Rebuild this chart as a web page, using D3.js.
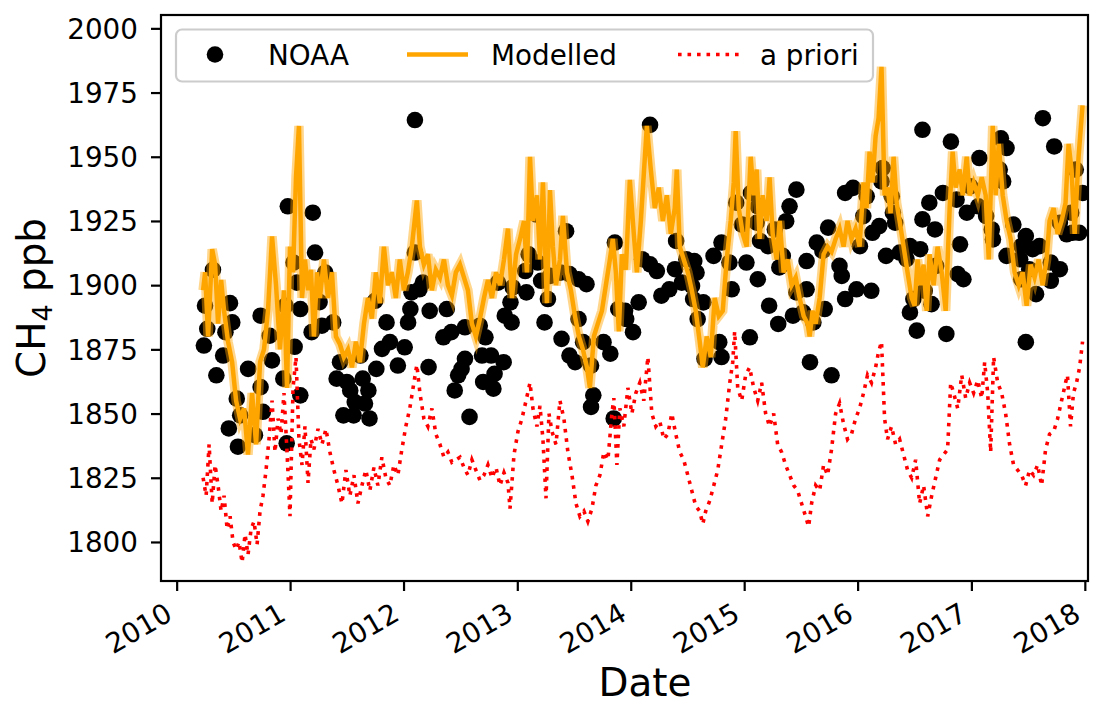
<!doctype html>
<html>
<head>
  <meta charset="utf-8">
  <script src="https://d3js.org/d3.v7.min.js"></script>
  <style>
    body { margin: 0; background: #fff; }
    text { font-family: "DejaVu Sans", sans-serif; fill: #000; }
  </style>
</head>
<body>
<script>
// data: [decimal year, CH4 ppb]
var noaaPoints = [
  [2010.32,1906],[2010.25,1892],[2010.27,1883],[2010.24,1876.5],[2010.47,1893],[2010.49,1885.5],[2010.43,1881.7],
  [2010.41,1872.6],[2010.35,1864.9],[2010.53,1855.8],[2010.56,1849.3],[2010.46,1844.2],[2010.54,1837.1],[2010.63,1867.4],
  [2010.74,1888.1],[2010.82,1880.3],[2010.84,1870.7],[2010.74,1860.3],[2010.76,1850.7],[2010.69,1841.6],[2010.94,1863.6],
  [2010.97,1838.4],[2011.09,1857.1],[2010.98,1930.7],[2011.20,1928.2],[2011.03,1908.8],[2011.22,1912.7],[2011.06,1901],
  [2011.09,1890.7],[2011.19,1881.7],[2010.96,1892],[2011.26,1893.4],[2011.04,1876],
  [2012.10,1964.3],[2011.31,1904.9],[2011.28,1884.2],[2011.38,1885.5],[2011.44,1870],[2011.41,1863.6],[2011.50,1862.3],
  [2011.53,1859],[2011.62,1872.6],[2011.64,1863.6],[2011.69,1859],[2011.47,1849.3],[2011.57,1854.5],[2011.66,1853.9],
  [2011.56,1849.3],[2011.70,1848.1],[2011.76,1867.4],[2011.75,1893.9],[2011.85,1885.5],[2011.81,1875.2],[2011.88,1877.8],
  [2011.95,1868.7],[2012.01,1875.8],[2012.04,1885.5],[2012.06,1890.7],[2012.07,1897.2],[2012.14,1898.4],[2012.17,1901],
  [2012.10,1912.7],[2012.22,1868.1],[2012.23,1890],[2012.38,1890.7],[2012.35,1879.7],[2012.42,1881.7],[2012.54,1883.6],
  [2012.54,1871.3],[2012.48,1864.9],[2012.45,1859],[2012.58,1848.7],
  [2012.51,1867.4],[2012.67,1884.2],[2012.72,1879.7],[2012.69,1872.6],[2012.77,1872.6],[2012.80,1865.5],[2012.70,1862.3],
  [2012.79,1859.7],[2012.88,1870],[2012.89,1888.1],[2012.94,1893.3],[2012.95,1885.5],[2012.83,1901],[2012.96,1899.1],
  [2013.08,1897.2],[2013.07,1905.5],[2013.10,1912],[2013.17,1927.5],[2013.18,1908.8],[2013.21,1901.7],[2013.27,1894.6],
  [2013.24,1885.5],[2013.29,1903.6],[2013.43,1921],[2013.38,1904.9],[2013.46,1904.3],[2013.54,1902.3],[2013.61,1900.4],
  [2013.54,1886.8],[2013.39,1879.1],[2013.46,1872.6],[2013.51,1870],[2013.58,1877.8],[2013.65,1868.7],[2013.76,1877.8],
  [2013.82,1873.3],[2013.67,1857.1],[2013.65,1852.6],[2013.85,1848.1],[2013.86,1916.6],[2013.89,1890.7],
  [2013.95,1890],[2013.96,1886.8],[2014.07,1893.3],[2014.02,1881.7],[2014.17,1962.4],[2014.10,1910.1],[2014.17,1908.1],
  [2014.23,1905.5],[2014.27,1895.9],[2014.34,1898.4],[2014.39,1906.2],[2014.40,1917.2],[2014.45,1901],[2014.49,1910.1],
  [2014.56,1909.4],[2014.58,1904.9],[2014.54,1899.7],[2014.55,1894.6],[2014.64,1893.3],[2014.59,1886.8],[2014.65,1871.3],
  [2014.78,1877.8],[2014.80,1872],[2014.73,1911.4],[2014.80,1916.6],[2014.87,1908.8],[2014.89,1898.4],[2014.93,1932.1],
  [2014.98,1923.6],[2015.06,1935.9],[2015.12,1930.7],[2015.11,1924.3],[2015.14,1917.2],[2015.02,1908.8],[2015.12,1902.3],
  [2015.05,1879.7],[2015.22,1892],
  [2015.30,1884.9],[2015.21,1915.2],[2015.27,1921.7],[2015.40,1930.7],[2015.46,1937.2],[2015.37,1924.9],[2015.34,1911.4],
  [2015.31,1906.9],[2015.55,1909.4],[2015.46,1897.2],[2015.43,1888.1],[2015.52,1889.4],[2015.55,1898.4],[2015.61,1885.5],
  [2015.71,1890.7],[2015.58,1870],[2015.77,1864.9],[2015.64,1916.6],[2015.74,1922.4],[2015.69,1913.3],[2015.84,1907.5],
  [2015.86,1903.6],[2015.89,1894.6],[2015.99,1898.4],[2016.12,1897.8],[2015.89,1935.9],[2015.96,1937.9],[2016.05,1926.9],
  [2016.08,1934.6],[2016.02,1915.2],[2016.13,1920.4],[2016.19,1923],[2016.22,1945.6],[2016.21,1940.4],[2016.30,1934.6],
  [2016.31,1928.2],[2016.33,1924.3],[2016.25,1911.4],[2016.37,1912.7],[2016.46,1915.2],[2016.43,1910.1],[2016.55,1914],
  [2016.57,1960.5],[2016.63,1932.1],[2016.57,1925.6],[2016.49,1894.6],[2016.46,1889.4],[2016.52,1882.3],[2016.59,1897.8],
  [2016.82,1955.9],[2017.63,1965],[2017.07,1949.5],[2017.26,1957.2],[2017.31,1953.4],[2017.73,1954],[2017.25,1945],
  [2017.28,1940.4],[2017.92,1945],[2017.98,1935.9],[2017.88,1928.2],[2016.75,1935.9],[2016.68,1921.7],[2016.87,1933.3],
  [2016.99,1938.5],[2016.96,1928.2],[2017.06,1930.7],[2017.13,1926.9],[2017.18,1921.7],[2017.19,1917.8],[2016.90,1915.9],
  [2016.69,1907.5],[2016.88,1904.3],[2016.93,1902.3],[2016.65,1892.6],[2016.78,1881],[2017.37,1923.6],[2017.48,1919.1],
  [2017.44,1915.2],[2017.31,1911.4],[2017.43,1910.1],[2017.54,1914],[2017.60,1915.2],[2017.51,1906.2],[2017.70,1908.8],
  [2017.78,1906.2],[2017.70,1901.7],[2017.44,1902.3],[2017.57,1896.5],[2017.48,1877.8],[2017.78,1924.3],[2017.84,1919.8],
  [2017.95,1920.4],[2017.89,1920.4]
];

var modelledSeries = [
  [2010.233,1898],[2010.251,1905],[2010.277,1880],[2010.313,1914],[2010.339,1908],[2010.365,1885],[2010.392,1902],
  [2010.418,1890],[2010.453,1878],[2010.489,1870],[2010.524,1855],[2010.559,1848],[2010.594,1852],[2010.629,1834],
  [2010.665,1858],[2010.700,1838],[2010.735,1870],[2010.770,1875],[2010.805,1890],[2010.841,1919],[2010.876,1900],
  [2010.911,1875],[2010.946,1898],[2010.973,1860],[2010.999,1915],[2011.026,1905],[2011.052,1942],[2011.078,1962],
  [2011.105,1895],[2011.131,1910],[2011.158,1898],[2011.184,1906],[2011.210,1880],[2011.237,1905],[2011.263,1895],
  [2011.298,1910],[2011.334,1895],[2011.369,1905],[2011.404,1880],[2011.439,1877],[2011.474,1872],[2011.510,1875],
  [2011.545,1868],[2011.580,1878],[2011.615,1870],[2011.651,1885],[2011.686,1895],[2011.721,1887],[2011.756,1905],
  [2011.791,1893],[2011.827,1915],[2011.862,1900],[2011.897,1905],[2011.932,1895],[2011.967,1910],[2012.003,1898],
  [2012.038,1905],[2012.073,1915],[2012.117,1933],[2012.144,1915],[2012.179,1908],[2012.214,1912],[2012.249,1898],
  [2012.284,1906],[2012.320,1903],[2012.355,1910],[2012.390,1900],[2012.425,1896],[2012.460,1905],[2012.496,1908],
  [2012.531,1903],[2012.566,1898],[2012.601,1885],[2012.636,1880],[2012.672,1887],[2012.707,1895],[2012.742,1902],
  [2012.777,1895],[2012.813,1905],[2012.848,1900],[2012.883,1910],[2012.918,1922],[2012.953,1895],[2012.989,1912],
  [2013.024,1918],[2013.059,1925],[2013.085,1905],[2013.112,1950],[2013.138,1925],[2013.173,1935],[2013.200,1910],
  [2013.226,1940],[2013.261,1893],[2013.288,1937],[2013.314,1915],[2013.341,1900],[2013.376,1910],[2013.402,1927],
  [2013.438,1905],[2013.473,1898],[2013.508,1888],[2013.543,1880],[2013.578,1875],[2013.614,1868],[2013.640,1860],
  [2013.675,1880],[2013.710,1885],[2013.746,1890],[2013.781,1900],[2013.816,1910],[2013.842,1918],[2013.869,1905],
  [2013.895,1882],[2013.922,1912],[2013.957,1906],[2013.992,1941],[2014.027,1920],[2014.054,1905],[2014.089,1925],
  [2014.142,1962],[2014.177,1945],[2014.212,1930],[2014.247,1938],[2014.283,1925],[2014.318,1935],[2014.353,1920],
  [2014.388,1930],[2014.406,1945],[2014.432,1915],[2014.467,1910],[2014.503,1905],[2014.538,1898],[2014.573,1890],
  [2014.608,1878],[2014.635,1868],[2014.670,1880],[2014.705,1872],[2014.740,1895],[2014.776,1888],[2014.811,1890],
  [2014.846,1910],[2014.881,1925],[2014.908,1940],[2014.925,1960],[2014.952,1930],[2014.987,1920],[2015.022,1915],
  [2015.057,1950],[2015.084,1935],[2015.110,1945],[2015.136,1918],[2015.163,1935],[2015.198,1925],[2015.224,1942],
  [2015.251,1920],[2015.286,1910],[2015.313,1925],[2015.348,1905],[2015.383,1910],[2015.418,1900],[2015.454,1903],
  [2015.489,1895],[2015.524,1888],[2015.559,1885],[2015.577,1880],[2015.603,1890],[2015.630,1885],[2015.665,1895],
  [2015.700,1912],[2015.735,1915],[2015.770,1913],[2015.806,1918],[2015.841,1922],[2015.876,1915],[2015.911,1925],
  [2015.946,1918],[2015.982,1922],[2016.017,1915],[2016.052,1940],[2016.078,1930],[2016.105,1952],[2016.131,1940],
  [2016.158,1958],[2016.184,1965],[2016.210,1985],[2016.237,1935],[2016.263,1938],[2016.290,1928],[2016.316,1950],
  [2016.343,1932],[2016.369,1925],[2016.404,1915],[2016.439,1905],[2016.475,1895],[2016.501,1892],[2016.527,1910],
  [2016.554,1900],[2016.580,1908],[2016.607,1890],[2016.633,1912],[2016.668,1900],[2016.703,1915],[2016.739,1905],
  [2016.774,1890],[2016.809,1930],[2016.835,1952],[2016.862,1938],[2016.897,1945],[2016.924,1935],[2016.959,1950],
  [2016.985,1935],[2017.020,1940],[2017.056,1935],[2017.091,1942],[2017.126,1935],[2017.153,1910],[2017.188,1962],
  [2017.214,1935],[2017.241,1955],[2017.276,1935],[2017.311,1925],[2017.346,1918],[2017.381,1905],[2017.417,1900],
  [2017.452,1905],[2017.487,1892],[2017.522,1908],[2017.557,1903],[2017.593,1910],[2017.628,1900],[2017.663,1910],
  [2017.689,1925],[2017.725,1930],[2017.760,1920],[2017.795,1925],[2017.830,1932],[2017.857,1955],[2017.883,1945],
  [2017.910,1920],[2017.945,1950],[2017.980,1970]
];

var aprioriSeries = [
  [2010.233,1825],[2010.260,1818],[2010.286,1838],[2010.313,1815],[2010.339,1830],[2010.365,1822],[2010.392,1812],
  [2010.418,1818],[2010.445,1805],[2010.471,1810],[2010.497,1800],[2010.524,1797],[2010.550,1800],[2010.577,1792],
  [2010.603,1803],[2010.629,1795],[2010.656,1805],[2010.682,1808],[2010.709,1799],[2010.735,1812],[2010.761,1818],
  [2010.788,1828],[2010.814,1840],[2010.841,1855],[2010.867,1835],[2010.894,1848],[2010.920,1842],[2010.946,1858],
  [2010.973,1835],[2010.999,1810],[2011.026,1860],[2011.052,1872],[2011.078,1840],[2011.105,1830],[2011.131,1845],
  [2011.158,1823],[2011.184,1840],[2011.210,1836],[2011.246,1844],[2011.281,1838],[2011.316,1844],[2011.351,1835],
  [2011.386,1828],[2011.422,1822],[2011.457,1815],[2011.492,1828],[2011.527,1818],[2011.563,1826],[2011.598,1815],
  [2011.633,1822],[2011.668,1828],[2011.703,1820],[2011.739,1829],[2011.774,1822],[2011.809,1833],[2011.844,1825],
  [2011.879,1822],[2011.915,1830],[2011.950,1826],[2011.985,1836],[2012.020,1845],[2012.055,1852],[2012.091,1862],
  [2012.117,1869],[2012.144,1858],[2012.179,1848],[2012.214,1845],[2012.249,1852],[2012.284,1842],[2012.320,1838],
  [2012.355,1833],[2012.390,1835],[2012.425,1831],[2012.460,1832],[2012.496,1833],[2012.531,1829],[2012.566,1826],
  [2012.601,1832],[2012.636,1828],[2012.672,1824],[2012.707,1826],[2012.742,1830],[2012.777,1825],[2012.813,1829],
  [2012.848,1822],[2012.883,1827],[2012.918,1823],[2012.936,1813],[2012.971,1834],[2013.006,1843],[2013.041,1848],
  [2013.077,1855],[2013.112,1862],[2013.138,1852],[2013.173,1845],[2013.200,1853],[2013.226,1840],[2013.253,1817],
  [2013.279,1850],[2013.306,1843],[2013.341,1838],[2013.376,1855],[2013.411,1848],[2013.446,1835],[2013.482,1826],
  [2013.517,1815],[2013.552,1810],[2013.587,1812],[2013.622,1808],[2013.658,1813],[2013.693,1822],[2013.728,1826],
  [2013.763,1835],[2013.799,1832],[2013.834,1850],[2013.851,1856],[2013.878,1830],[2013.904,1852],[2013.939,1845],
  [2013.975,1860],[2014.010,1850],[2014.045,1858],[2014.080,1862],[2014.115,1855],[2014.151,1872],[2014.186,1850],
  [2014.221,1845],[2014.256,1847],[2014.292,1840],[2014.327,1842],[2014.362,1850],[2014.397,1842],[2014.432,1835],
  [2014.467,1832],[2014.503,1826],[2014.538,1820],[2014.573,1814],[2014.608,1812],[2014.635,1807],[2014.661,1812],
  [2014.696,1816],[2014.732,1822],[2014.767,1828],[2014.802,1838],[2014.837,1848],[2014.873,1862],[2014.899,1870],
  [2014.916,1882],[2014.943,1860],[2014.978,1855],[2015.013,1865],[2015.048,1868],[2015.084,1860],[2015.119,1855],
  [2015.154,1862],[2015.189,1850],[2015.224,1845],[2015.260,1850],[2015.295,1838],[2015.330,1835],[2015.365,1830],
  [2015.401,1826],[2015.436,1822],[2015.471,1820],[2015.506,1815],[2015.541,1810],[2015.568,1806],[2015.594,1815],
  [2015.630,1822],[2015.665,1820],[2015.700,1830],[2015.735,1826],[2015.770,1836],[2015.806,1850],[2015.841,1854],
  [2015.876,1846],[2015.911,1840],[2015.946,1842],[2015.982,1848],[2016.017,1852],[2016.052,1858],[2016.087,1865],
  [2016.122,1862],[2016.158,1868],[2016.184,1874],[2016.210,1878],[2016.237,1848],[2016.263,1840],[2016.298,1845],
  [2016.334,1838],[2016.369,1840],[2016.404,1834],[2016.439,1828],[2016.475,1825],[2016.510,1832],[2016.545,1815],
  [2016.580,1822],[2016.616,1810],[2016.651,1818],[2016.686,1825],[2016.721,1832],[2016.756,1834],[2016.791,1836],
  [2016.818,1862],[2016.844,1858],[2016.880,1852],[2016.915,1865],[2016.950,1856],[2016.985,1862],[2017.020,1858],
  [2017.056,1863],[2017.091,1856],[2017.117,1870],[2017.144,1858],[2017.170,1835],[2017.196,1872],[2017.232,1862],
  [2017.267,1858],[2017.302,1850],[2017.337,1838],[2017.372,1830],[2017.408,1828],[2017.443,1826],[2017.478,1822],
  [2017.513,1828],[2017.548,1826],[2017.584,1830],[2017.619,1822],[2017.654,1836],[2017.689,1842],[2017.725,1843],
  [2017.760,1848],[2017.795,1855],[2017.830,1862],[2017.847,1865],[2017.874,1845],[2017.900,1858],[2017.927,1862],
  [2017.954,1868],[2017.980,1878]
];

var yTickValues = [1800, 1825, 1850, 1875, 1900, 1925, 1950, 1975, 2000];
var legendLabels = ["NOAA", "Modelled", "a priori"];

// decimal year -> Date
function toDate(t) {
  var yr = Math.floor(t);
  var a = new Date(yr, 0, 1), b = new Date(yr + 1, 0, 1);
  return new Date(+a + (t - yr) * (b - a));
}

var width = 1118, height = 706;
var plotLeft = 161, plotRight = 1088, plotTop = 15, plotBottom = 581;

var x = d3.scaleTime()
  .domain([toDate(2009.862), toDate(2018.028)])
  .range([plotLeft, plotRight]);
var y = d3.scaleLinear()
  .domain([1784.8, 2005.2])
  .range([plotBottom, plotTop]);

var svg = d3.select("body").append("svg")
  .attr("width", width)
  .attr("height", height);

svg.append("defs").append("clipPath").attr("id", "plotclip")
  .append("rect").attr("x", plotLeft).attr("y", plotTop)
  .attr("width", plotRight - plotLeft).attr("height", plotBottom - plotTop);

var plot = svg.append("g").attr("clip-path", "url(#plotclip)");

// NOAA observations
plot.selectAll("circle.noaa")
  .data(noaaPoints)
  .enter().append("circle")
  .attr("class", "noaa")
  .attr("cx", function(d) { return x(toDate(d[0])); })
  .attr("cy", function(d) { return y(d[1]); })
  .attr("r", 8.3)
  .attr("fill", "#000");

var line = d3.line()
  .x(function(d) { return x(toDate(d[0])); })
  .y(function(d) { return y(d[1]); });

// modelled: light band underneath, then the line
plot.append("path").datum(modelledSeries)
  .attr("d", line)
  .attr("fill", "none")
  .attr("stroke", "orange")
  .attr("stroke-opacity", 0.45)
  .attr("stroke-width", 9.5);
plot.append("path").datum(modelledSeries)
  .attr("d", line)
  .attr("fill", "none")
  .attr("stroke", "orange")
  .attr("stroke-width", 4.5);

// a priori
plot.append("path").datum(aprioriSeries)
  .attr("d", line)
  .attr("fill", "none")
  .attr("stroke", "red")
  .attr("stroke-width", 3.6)
  .attr("stroke-dasharray", "3.6,5.9");

// axes
var xAxis = d3.axisBottom(x)
  .ticks(d3.timeYear.every(1))
  .tickFormat(d3.timeFormat("%Y"))
  .tickSize(10)
  .tickSizeOuter(0);
var gx = svg.append("g").attr("transform", "translate(0," + plotBottom + ")").call(xAxis);
gx.select(".domain").remove();
gx.selectAll(".tick line").attr("stroke", "#000").attr("stroke-width", 2.2);
gx.selectAll(".tick text")
  .attr("x", 0).attr("y", 0).attr("dy", 0)
  .attr("text-anchor", "end")
  .attr("transform", "translate(-3,38) rotate(-30)")
  .style("font-size", "27.8px")
  .style("font-family", "'DejaVu Sans', sans-serif");

var yAxis = d3.axisLeft(y)
  .tickValues(yTickValues)
  .tickFormat(d3.format("d"))
  .tickSize(10)
  .tickPadding(13)
  .tickSizeOuter(0);
var gy = svg.append("g").attr("transform", "translate(" + plotLeft + ",0)").call(yAxis);
gy.select(".domain").remove();
gy.selectAll(".tick line").attr("stroke", "#000").attr("stroke-width", 2.2);
gy.selectAll(".tick text")
  .attr("dy", "0.35em")
  .style("font-size", "27.8px")
  .style("font-family", "'DejaVu Sans', sans-serif");

// frame
svg.append("rect")
  .attr("x", plotLeft).attr("y", plotTop)
  .attr("width", plotRight - plotLeft).attr("height", plotBottom - plotTop)
  .attr("fill", "none")
  .attr("stroke", "#000")
  .attr("stroke-width", 2.2);

// axis labels
svg.append("text")
  .attr("x", 645)
  .attr("y", 696)
  .attr("text-anchor", "middle")
  .style("font-size", "38.9px")
  .text("Date");

var ylab = svg.append("text")
  .attr("transform", "translate(45," + ((plotTop + plotBottom) / 2) + ") rotate(-90)")
  .attr("text-anchor", "middle")
  .style("font-size", "38.9px");
ylab.append("tspan").text("CH");
ylab.append("tspan").attr("dy", 7).style("font-size", "27px").text("4");
ylab.append("tspan").attr("dy", -7).text(" ppb");

// legend
var lg = svg.append("g");
lg.append("rect")
  .attr("x", 176).attr("y", 29.5)
  .attr("width", 697).attr("height", 52)
  .attr("rx", 6)
  .attr("fill", "#fff").attr("fill-opacity", 0.8)
  .attr("stroke", "#cccccc").attr("stroke-width", 2.2);

lg.append("circle").attr("cx", 215).attr("cy", 54.5).attr("r", 8.3).attr("fill", "#000");
lg.append("line").attr("x1", 407).attr("x2", 468).attr("y1", 54.5).attr("y2", 54.5)
  .attr("stroke", "orange").attr("stroke-width", 4.5);
lg.append("line").attr("x1", 678).attr("x2", 739).attr("y1", 54.5).attr("y2", 54.5)
  .attr("stroke", "red").attr("stroke-width", 3.6).attr("stroke-dasharray", "3.6,5.9");

var legendX = [268, 491, 760];
lg.selectAll("text.lab")
  .data(legendLabels)
  .enter().append("text")
  .attr("class", "lab")
  .attr("x", function(d, i) { return legendX[i]; })
  .attr("y", 64.5)
  .style("font-size", "27.8px")
  .text(function(d) { return d; });
</script>
</body>
</html>
